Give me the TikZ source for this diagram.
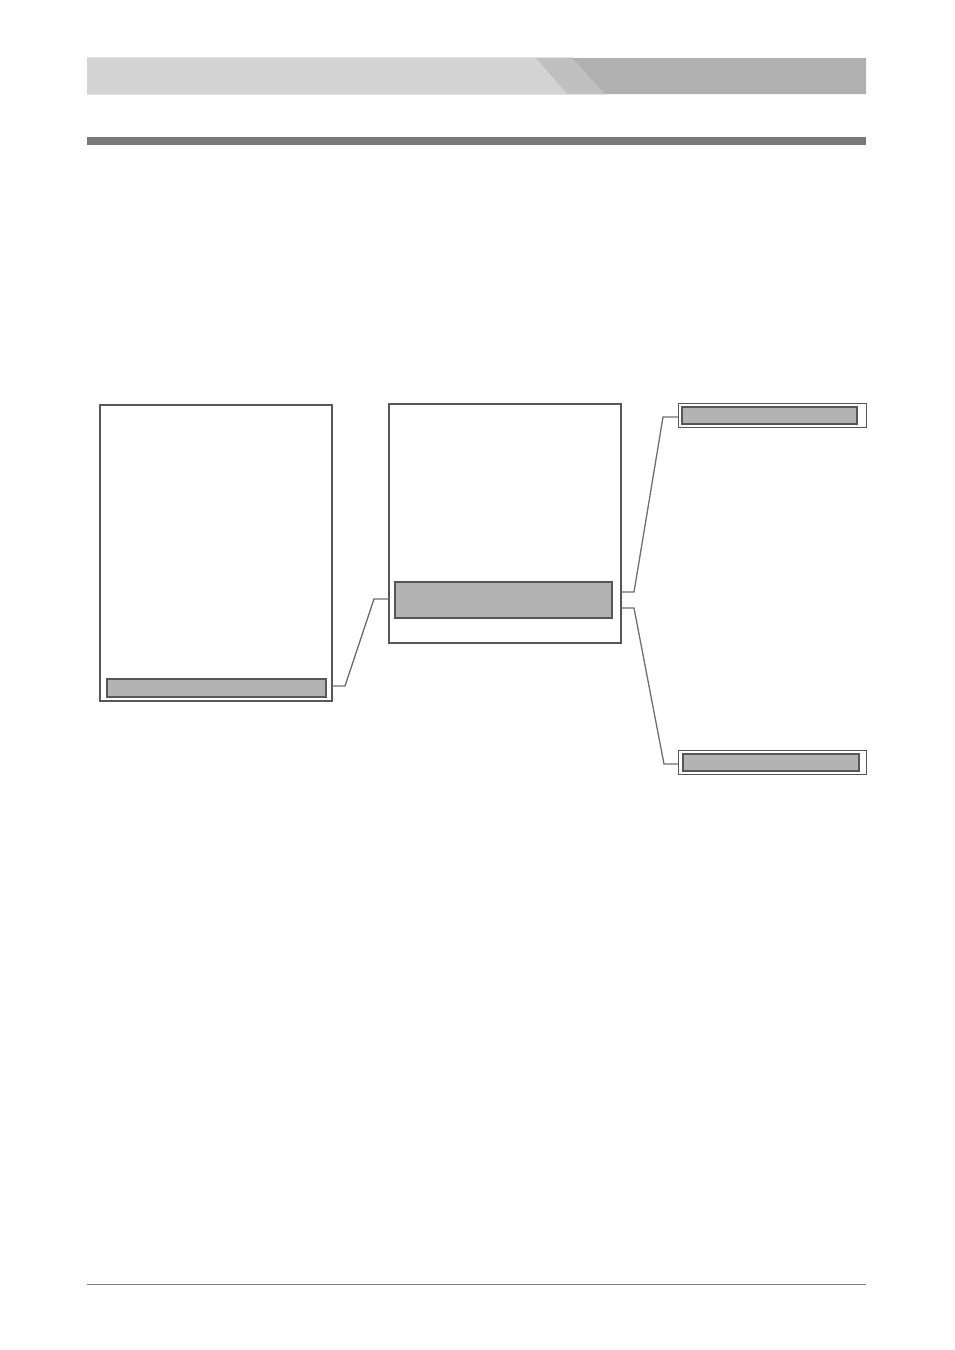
\documentclass[tikz,border=0pt]{standalone}
\usetikzlibrary{calc}
\definecolor{lightband}{HTML}{D3D3D3}
\definecolor{bandedge}{HTML}{E2E2E2}
\definecolor{midband}{HTML}{C0C0C0}
\definecolor{darkband}{HTML}{B0B0B0}
\definecolor{rulegrey}{HTML}{7A7878}
\definecolor{footgrey}{HTML}{808080}
\definecolor{edgegrey}{HTML}{575757}
\definecolor{barfill}{HTML}{B3B3B3}
\definecolor{conngrey}{HTML}{6E6E6E}
\begin{document}
\begin{tikzpicture}[x=1pt,y=-1pt,
  panel/.style={draw=edgegrey, line width=1.8pt, fill=white, inner sep=0pt, outer sep=0pt, anchor=north west},
  greybar/.style={draw=edgegrey, line width=1.8pt, fill=barfill, inner sep=0pt, outer sep=0pt, anchor=north west},
  thinframe/.style={draw=edgegrey, line width=1pt, fill=white, inner sep=0pt, outer sep=0pt, anchor=north west},
  conn/.style={draw=conngrey, line width=1.3pt}]
\useasboundingbox (0,0) rectangle (954,1350);
% header band
\fill[lightband] (87,57) -- (535,57) -- (567,94) -- (87,94) -- cycle;
\fill[midband] (535,57) -- (572,57) -- (605,94) -- (567,94) -- cycle;
\fill[darkband] (572,58) -- (866,58) -- (866,94) -- (605,94) -- cycle;
\draw[bandedge, line width=0.8pt] (87,57.4) -- (572,57.4);
\draw[bandedge, line width=0.8pt] (87,94.4) -- (606,94.4);
% title rule
\fill[rulegrey] (87,137) rectangle (866,145);
% footer rule
\draw[footgrey, line width=1pt] (87,1284) -- (866,1284);
% boxes
\node[panel, minimum width=232pt, minimum height=296pt] (b1) at (100,405) {};
\node[greybar, minimum width=219pt, minimum height=18pt] (bar1) at (107,679) {};
\node[panel, minimum width=232pt, minimum height=239pt] (b2) at (389,404) {};
\node[greybar, minimum width=217pt, minimum height=36pt] (bar2) at (395,582) {};
\node[thinframe, minimum width=188pt, minimum height=24pt] (r1) at (678,403) {};
\node[greybar, minimum width=175pt, minimum height=17pt] (r1bar) at (682,407) {};
\node[thinframe, minimum width=188pt, minimum height=24pt] (r2) at (678,750) {};
\node[greybar, minimum width=176pt, minimum height=17pt] (r2bar) at (683,754) {};
% connectors
\draw[conn] ($(b1.east|-bar1.center)+(0,-2)$) -- ++(13,0) -- ($(b2.west|-bar2.center)+(-15,-1)$) -- ($(b2.west|-bar2.center)+(0,-1)$);
\draw[conn] ($(b2.east|-bar2.center)+(0,-8)$) -- ++(13,0) -- ($(r1.west)+(-15,2)$) -- ($(r1.west)+(0,2)$);
\draw[conn] ($(b2.east|-bar2.center)+(0,8)$) -- ++(13,0) -- ($(r2.west)+(-14,2)$) -- ($(r2.west)+(0,2)$);
\end{tikzpicture}
\end{document}
